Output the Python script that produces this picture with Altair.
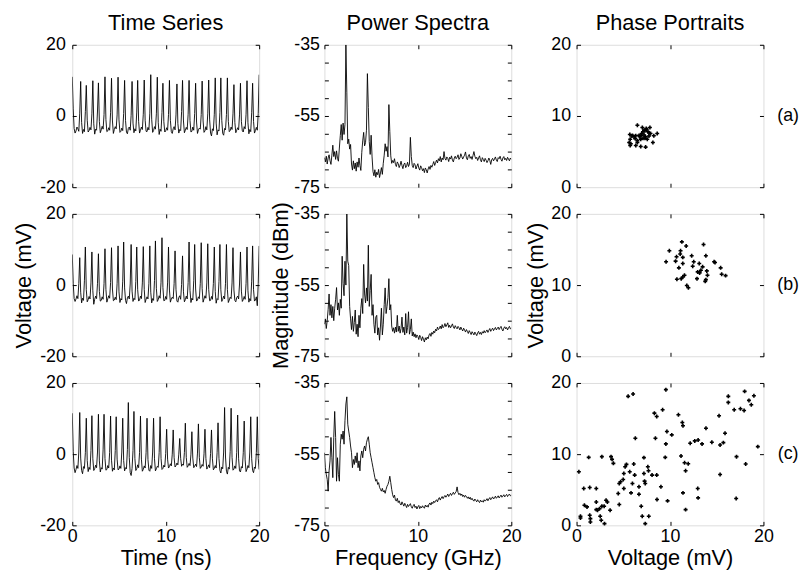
import altair as alt
import numpy as np
import pandas as pd

FONT = "Liberation Sans"
W, H = 189, 144

# ---------------- Time series (sampled every 0.1 ns), one cycle per line ----------------
TS_STEP = 0.1
ts_a_cycles = [
    [11.0, 2.0, -3.5, -4.8, -4.2, -3.1, -3.6, -4.3, 0.8],
    [9.7, -1.8, -4.9, -3.8, -4.4, 1.2],
    [8.6, -1.2, -4.5, -4.1, -3.2, -3.9, 0.6],
    [9.9, -2.2, -5.1, -3.7, -4.0, 1.4],
    [9.3, -1.6, -4.7, -3.9, -2.9, -3.7, 0.4],
    [11.0, -1.0, -4.4, -4.2, -3.3, -4.0, 0.9],
    [10.6, -1.4, -4.9, -3.8, -3.0, -3.6, 0.3],
    [10.9, -1.1, -4.6, -4.3, -3.4, -4.1, 0.7],
    [10.0, -1.3, -4.5, -5.0, -3.5, -3.1, -4.0, 0.2],
    [9.7, -2.0, -4.7, -3.6, -4.2, 1.1],
    [10.0, -1.5, -4.8, -4.0, -3.1, -3.8, 0.5],
    [10.1, -1.2, -4.3, -4.4, -3.2, -3.9, 0.8],
    [11.6, -0.9, -4.6, -4.1, -3.0, -3.7, 0.6],
    [10.9, -1.9, -5.2, -3.7, -4.3, 1.0],
    [9.2, -1.6, -4.5, -4.2, -3.3, -4.0, 0.4],
    [10.0, -1.2, -4.4, -4.9, -3.6, -3.0, -3.9, 0.3],
    [9.0, -2.1, -4.8, -3.8, -4.1, 1.2],
    [10.0, -1.4, -4.7, -4.0, -3.2, -3.8, 0.5],
    [10.0, -1.3, -4.5, -4.3, -3.1, -4.0, 0.7],
    [9.2, -1.7, -4.9, -3.9, -3.4, -3.7, 0.4],
    [9.8, -1.4, -4.6, -4.2, -3.0, -3.9, 0.6],
    [10.1, -1.1, -4.8, -5.6, -3.6, -4.1, 0.5],
    [10.7, -2.0, -5.3, -3.9, -4.2, 1.0],
    [10.7, -1.2, -4.9, -5.4, -3.5, -3.9, 0.4],
    [10.7, -1.5, -4.4, -4.1, -3.1, -3.8, 0.6],
    [8.8, -1.8, -4.7, -4.0, -3.3, -3.9, 0.3],
    [9.2, -1.6, -4.2, -4.5, -3.0, -3.6, 0.5],
    [9.9, -1.9, -5.0, -3.8, -4.4, 0.9],
    [9.2, -1.5, -4.8, -4.1, -3.2, -4.0, 0.7],
    [11.6],
]
ts_b_cycles = [
    [8.6, 0.5, -3.8, -4.6, -3.9, -3.0, -3.8, 0.4],
    [7.7, -2.0, -5.0, -3.7, -4.3, 1.2],
    [10.7, -1.3, -4.7, -4.1, -3.2, -3.9, 0.6],
    [9.3, -1.6, -5.4, -4.0, -3.1, -3.8, 0.5],
    [8.8, -1.8, -4.5, -4.3, -3.3, -4.0, 0.4],
    [10.2, -1.2, -4.8, -3.9, -3.0, -3.7, 0.7],
    [10.5, -1.1, -4.4, -4.2, -3.4, -4.1, 0.5],
    [11.0, -1.9, -4.9, -3.8, -4.2, 1.1],
    [12.1, -0.8, -4.3, -5.2, -3.6, -3.1, -3.9, 0.3],
    [11.4, -1.7, -4.6, -3.7, -4.1, 1.0],
    [10.7, -1.3, -4.5, -4.2, -3.1, -3.8, 0.6],
    [10.8, -1.2, -4.9, -4.0, -3.3, -3.9, 0.5],
    [11.0, -2.0, -5.0, -3.8, -4.3, 1.3],
    [12.4, -0.9, -4.6, -4.1, -3.0, -3.7, 0.8],
    [13.3, -0.7, -4.4, -4.3, -3.2, -4.0, 0.6],
    [10.7, -1.4, -4.8, -3.9, -3.4, -3.8, 0.4],
    [9.6, -1.2, -4.5, -4.8, -3.5, -3.0, -4.0, 0.2],
    [8.2, -1.9, -4.7, -4.1, -3.1, -3.9, 0.7],
    [12.1, -1.5, -4.9, -3.7, -4.2, 1.2],
    [11.4, -1.1, -4.5, -4.2, -3.3, -3.8, 0.5],
    [11.9, -1.0, -4.8, -3.9, -3.0, -3.7, 0.6],
    [11.6, -1.2, -4.4, -4.3, -3.2, -4.0, 0.4],
    [10.7, -1.8, -5.1, -3.8, -4.1, 1.0],
    [11.4, -1.3, -4.6, -4.0, -3.1, -3.9, 0.5],
    [11.4, -1.2, -4.9, -4.2, -3.4, -3.8, 0.6],
    [10.5, -1.4, -4.3, -4.7, -3.5, -3.1, -3.9, 0.3],
    [9.3, -1.7, -4.6, -4.1, -3.2, -4.0, 0.5],
    [10.7, -1.6, -4.8, -3.8, -4.4, 1.1],
    [11.0, -1.3, -4.5, -4.2, -3.3, -5.8, 0.4],
    [11.0],
]
ts_c_cycles = [
    [11.5, 0.8, -3.9, -5.2, -4.3, -3.2, -4.0, 0.6],
    [11.7, -1.1, -4.6, -5.5, -3.5, -4.0, 0.4],
    [10.1, -1.8, -4.9, -3.7, -4.3, 1.0],
    [10.8, -1.3, -4.6, -4.1, -3.1, -3.8, 0.6],
    [11.2, -1.9, -5.0, -3.8, -4.2, 1.2],
    [11.2, -1.2, -4.5, -4.3, -3.2, -3.9, 0.5],
    [10.7, -1.7, -4.8, -3.9, -4.4, 1.0],
    [10.5, -1.4, -4.4, -4.2, -3.3, -4.0, 0.6],
    [10.1, -1.8, -4.7, -3.8, -4.1, 1.3],
    [14.5, -1.0, -5.2, -6.0, -4.0, 1.0],
    [12.0, -1.2, -4.6, -4.1, -3.0, -3.8, 0.5],
    [10.7, -1.4, -4.8, -4.3, -3.3, -3.9, 0.4],
    [10.1, -1.5, -4.5, -4.8, -3.2, -4.0, 0.6],
    [10.1, -1.3, -4.7, -4.1, -3.4, -3.7, 0.5],
    [10.5, -1.2, -4.3, -4.0, -3.1, -3.6, 0.2],
    [7.0, -1.4, -3.9, -3.5, -2.7, -3.3, 0.0],
    [6.8, -1.0, -3.6, -3.2, -2.5, -3.0, 0.0],
    [4.4, -1.2, -3.4, -2.8, -3.1, 0.5],
    [8.7, -0.9, -3.7, -3.3, -2.6, -3.2, 0.0],
    [6.3, -1.1, -3.8, -3.4, -2.8, -3.5, 0.3],
    [8.5, -1.0, -4.0, -3.6, -2.9, -3.4, 0.1],
    [7.0, -1.2, -4.2, -3.7, -3.0, -3.8, 0.2],
    [6.8, -1.3, -4.4, -4.0, -3.2, -3.9, 0.4],
    [8.8, -1.2, -4.6, -5.3, -3.6, -4.1, 0.6],
    [13.1, -0.8, -4.8, -5.6, -3.7, -4.2, 0.8],
    [12.9, -0.9, -4.5, -4.2, -3.3, -4.0, 0.5],
    [11.0, -1.3, -4.7, -5.0, -3.5, -3.9, 0.4],
    [9.3, -1.6, -4.9, -4.2, -3.2, -3.8, 0.6],
    [10.5, -1.3, -4.6, -5.2, -3.6, -4.0, 0.5],
    [10.5, -1.2, -4.3],
]

# ---------------- Power spectra (sampled every 0.1 GHz) ----------------
PS_STEP = 0.1
ps_a = [
    -66.7, -67.9, -66.3, -68.5, -66.8, -65.9, -67.6, -68.6, -66.0, -63.2,
    -66.4, -65.0, -67.2, -64.8, -66.9, -67.7, -64.0, -60.5, -57.4, -61.8,
    -57.0, -60.2, -57.4, -35.0, -48.5, -62.8, -61.5, -64.3, -63.0, -68.5,
    -70.2, -67.6, -69.8, -68.2, -70.5, -67.9, -69.4, -66.8, -68.9, -70.3,
    -65.2, -62.0, -59.6, -63.4, -62.5, -59.0, -43.1, -52.6, -62.2, -65.8,
    -60.4, -66.5, -70.6, -71.8, -70.1, -72.2, -70.8, -71.5, -70.0, -72.3,
    -71.0, -69.5, -71.4, -68.3, -66.0, -62.8, -64.9, -63.6, -66.5, -51.8,
    -59.4, -66.2, -68.3, -67.5, -68.1, -67.0, -68.6, -69.2, -67.9, -68.4,
    -69.5, -68.8, -67.7, -68.9, -69.8, -68.6, -68.2, -69.5, -69.0, -68.0,
    -69.2, -68.5, -61.0, -66.4, -68.9, -69.5, -68.3, -68.7, -69.9, -69.1,
    -68.4, -69.6, -70.2, -69.0, -69.5, -70.4, -69.8, -70.9, -69.6, -70.1,
    -71.0, -69.9, -69.2, -70.0, -68.9, -69.4, -68.6, -67.8, -68.9, -68.1,
    -67.4, -68.2, -67.0, -67.6, -66.4, -67.9, -66.8, -67.3, -65.0, -66.9,
    -67.4, -66.5, -66.9, -67.8, -66.6, -67.1, -66.2, -67.4, -67.9, -66.8,
    -66.3, -67.0, -66.6, -65.9, -67.2, -66.8, -65.6, -66.4, -67.1, -66.5,
    -66.0, -65.1, -66.8, -67.3, -66.2, -65.8, -66.9, -66.4, -67.2, -66.1,
    -65.0, -66.3, -67.0, -66.6, -67.5, -66.8, -66.2, -67.3, -67.9, -66.7,
    -67.2, -67.8, -66.9, -67.4, -68.1, -67.6, -66.8, -67.5, -68.6, -67.3,
    -66.9, -67.6, -67.1, -66.5, -67.4, -67.8, -66.7, -67.0, -66.3, -67.2,
    -67.7, -66.8, -66.4, -67.3, -66.9, -67.5, -66.6, -67.1, -67.6, -66.8,
    -67.2,
]
ps_b = [
    -66.0, -64.5, -67.2, -65.0, -61.8, -57.5, -63.5, -60.5, -64.2, -61.0,
    -65.0, -61.5, -59.0, -55.7, -62.0, -60.0, -63.5, -59.0, -61.5, -46.9,
    -54.5, -58.0, -48.3, -55.0, -35.0, -48.3, -49.5, -61.0, -64.5, -67.5,
    -63.8, -68.0, -65.5, -62.0, -68.8, -66.0, -69.5, -63.5, -67.0, -61.5,
    -58.8, -63.0, -49.2, -57.5, -60.0, -55.8, -59.5, -43.8, -61.0, -56.5,
    -52.0, -63.5, -60.5, -66.0, -68.5, -64.0, -63.5, -69.0, -67.0, -70.5,
    -66.5, -61.5, -69.0, -66.0, -60.5, -55.8, -63.0, -61.0, -58.5, -53.2,
    -62.0, -60.5, -66.5, -68.0, -67.0, -68.5, -66.8, -68.2, -63.5, -68.0,
    -66.5, -68.5, -67.2, -64.0, -68.3, -66.8, -69.0, -63.0, -68.5, -66.9,
    -62.5, -68.8, -67.5, -64.5, -69.3, -68.2, -69.5, -68.7, -69.8, -69.0,
    -69.4, -70.3, -69.1, -69.7, -70.6, -69.5, -70.2, -71.0, -69.8, -70.4,
    -69.6, -70.1, -69.0, -68.6, -69.4, -68.3, -68.8, -67.9, -68.4, -67.4,
    -67.9, -66.8, -67.5, -67.2, -66.5, -67.3, -66.1, -67.0, -66.6, -65.8,
    -66.7, -66.2, -65.6, -66.9, -66.3, -67.0, -66.5, -65.9, -66.8, -67.2,
    -66.4, -66.9, -67.3, -66.6, -67.0, -67.6, -66.8, -67.4, -67.9, -67.1,
    -67.6, -68.2, -67.5, -68.0, -68.6, -67.8, -68.3, -68.9, -68.1, -68.5,
    -69.0, -68.2, -68.7, -69.2, -68.4, -68.0, -68.8, -68.3, -68.9, -68.1,
    -68.5, -67.8, -68.4, -68.0, -67.6, -68.3, -67.7, -67.2, -68.0, -67.5,
    -67.1, -67.8, -67.3, -66.9, -67.6, -67.2, -66.8, -67.5, -67.0, -66.6,
    -67.4, -67.9, -67.1, -66.7, -67.3, -66.9, -67.6, -67.0, -66.6, -67.3,
    -67.1,
]
ps_c = [
    -54.6, -58.8, -60.7, -62.1, -65.4, -59.7, -56.9, -50.3, -56.0, -61.6,
    -50.3, -43.0, -50.3, -62.6, -56.0, -60.7, -62.6, -52.2, -49.4, -50.8,
    -48.5, -52.2, -45.6, -40.9, -38.9, -46.6, -48.5, -50.3, -52.7, -54.6,
    -58.8, -56.5, -57.9, -55.5, -57.4, -54.6, -58.8, -56.9, -59.7, -55.5,
    -54.1, -56.0, -53.6, -52.7, -54.1, -51.8, -50.8, -50.1, -52.2, -54.6,
    -56.0, -57.4, -58.8, -60.2, -61.6, -62.6, -62.1, -63.5, -63.0, -64.3,
    -64.9, -65.4, -64.6, -65.6, -65.2, -66.0, -64.9, -64.0, -63.5, -62.6,
    -61.2, -63.0, -64.9, -66.4, -67.2, -66.5, -67.9, -68.2, -67.4, -68.6,
    -68.1, -68.9, -69.3, -68.4, -69.0, -69.6, -68.8, -69.4, -70.0, -69.1,
    -69.7, -69.3, -68.9, -69.8, -70.2, -69.5, -69.1, -70.0, -69.6, -70.4,
    -69.8, -69.4, -70.3, -69.7, -70.1, -69.5, -69.9, -70.2, -69.3, -69.8,
    -69.4, -69.9, -69.0, -68.7, -69.3, -68.5, -68.9, -68.2, -68.6, -68.1,
    -67.8, -68.4, -67.6, -67.2, -67.9, -67.3, -66.9, -67.5, -67.0, -66.6,
    -67.1, -66.7, -66.2, -66.9, -66.4, -66.0, -66.6, -66.1, -65.7, -66.3,
    -65.9, -65.5, -64.2, -65.8, -66.4, -66.0, -66.6, -66.2, -66.9, -66.5,
    -67.1, -66.6, -66.9, -67.4, -67.0, -67.6, -67.1, -67.8, -67.4, -67.9,
    -68.2, -67.6, -68.0, -68.4, -67.8, -68.3, -68.6, -67.9, -68.4, -68.1,
    -68.5, -67.8, -68.2, -67.9, -67.5, -68.1, -67.6, -67.2, -67.8, -67.4,
    -67.0, -67.6, -67.3, -66.8, -67.4, -67.1, -66.7, -67.3, -66.9, -66.5,
    -67.1, -66.8, -66.4, -67.0, -66.6, -66.3, -66.9, -66.5, -66.2, -66.7,
    -66.6,
]

# ---------------- Phase portraits ----------------
pa_x = [6.51, 5.70, 5.92, 6.16, 6.34, 6.69, 6.97, 7.11, 7.32, 7.50, 7.85, 7.46, 7.22, 7.39,
        7.75, 8.27, 8.63, 8.17, 5.74, 5.63, 5.74, 6.34, 6.87, 7.39, 6.51, 6.87, 7.11, 7.57,
        6.76, 6.27, 5.99, 7.04, 7.22, 7.64, 7.92, 6.51, 5.81, 7.75, 7.32, 6.90]
pa_y = [8.70, 7.41, 7.19, 7.09, 7.23, 7.28, 7.55, 7.78, 7.92, 8.10, 8.38, 8.24, 7.32, 7.09,
        7.19, 7.23, 7.55, 6.27, 6.73, 6.27, 5.86, 5.86, 5.72, 5.63, 6.54, 6.73, 6.86, 6.73,
        7.09, 6.82, 7.28, 8.38, 8.01, 7.78, 7.55, 6.27, 6.09, 7.64, 6.86, 7.28]
pb_x = [11.27, 11.73, 9.93, 13.59, 11.13, 12.32, 13.84, 10.70, 11.37, 9.58, 10.60, 12.54,
        13.13, 14.72, 14.82, 12.43, 10.95, 15.42, 13.31, 13.17, 13.94, 14.01, 11.55, 11.37,
        11.20, 10.74, 12.89, 13.84, 13.77, 15.53, 15.95, 11.80, 11.97, 11.37, 13.49, 12.96,
        11.09]
pb_y = [16.07, 15.50, 14.83, 15.69, 14.83, 14.12, 14.12, 13.98, 13.89, 13.27, 13.36, 13.27,
        13.03, 13.27, 13.18, 12.65, 12.42, 12.42, 12.09, 11.71, 11.99, 11.37, 11.37, 11.14,
        10.90, 10.81, 10.90, 10.76, 10.52, 11.52, 11.33, 9.95, 9.62, 13.03, 12.56, 11.85,
        14.36]
pc_x = [0.25, 0.42, 0.42, 0.77, 0.84, 1.12, 1.30, 1.41, 1.41, 1.48, 1.48, 2.11, 2.11, 2.11,
        2.25, 2.46, 2.53, 2.64, 2.71, 2.71, 2.95, 2.99, 3.16, 3.30, 3.59, 3.69, 3.80, 3.94,
        4.46, 4.57, 4.57, 4.71, 4.99, 5.06, 5.06, 5.20, 5.34, 5.52, 5.69, 5.83, 6.05, 5.98,
        6.12, 6.22, 6.29, 6.68, 6.68, 6.92, 7.03, 7.21, 7.21, 7.28, 7.35, 7.35, 7.63, 7.70,
        7.73, 8.08, 8.33, 8.44, 8.58, 8.58, 8.61, 9.03, 9.21, 9.49, 9.56, 9.56, 9.67, 9.74,
        10.19, 11.18, 10.90, 11.32, 11.39, 11.39, 11.56, 11.67, 11.67, 11.95, 12.16, 12.65,
        12.97, 13.01, 13.01, 13.43, 13.85, 14.48, 15.25, 15.36, 15.36, 15.71, 15.89, 16.24,
        16.24, 16.87, 17.12, 17.08, 17.54, 17.93, 17.99, 18.10, 18.45, 18.70, 18.98, 19.40]
pc_y = [7.53, 1.27, 1.04, 5.18, 2.82, 2.59, 9.55, 5.32, 1.41, 0.94, 0.47, 5.18, 3.29, 2.21,
        2.12, 2.35, 1.27, 0.71, 9.65, 2.68, 2.68, 0.24, 3.53, 3.29, 2.12, 9.65, 9.27, 8.71,
        4.47, 2.92, 5.88, 6.12, 6.45, 7.29, 5.18, 8.24, 8.56, 18.12, 7.53, 4.56, 18.45, 5.88,
        8.61, 7.06, 12.24, 5.41, 4.38, 2.68, 1.27, 9.51, 7.29, 6.21, 5.88, 0.24, 8.24, 7.67,
        1.27, 7.06, 15.76, 12.24, 15.29, 7.06, 3.62, 5.41, 16.24, 9.55, 11.44, 19.06, 13.18,
        3.44, 12.71, 9.74, 15.53, 14.45, 13.98, 4.56, 8.80, 7.67, 2.21, 8.66, 11.53, 11.86,
        5.18, 3.86, 12.00, 11.44, 13.65, 11.67, 15.39, 11.29, 7.15, 11.62, 12.94, 17.27,
        18.12, 16.24, 9.65, 3.76, 16.38, 16.14, 18.82, 8.61, 17.55, 16.94, 18.21, 11.06]

row_labels = ["(a)", "(b)", "(c)"]
col_titles = ["Time Series", "Power Spectra", "Phase Portraits"]


def flat(cycles):
    return [v for c in cycles for v in c]


def sampled(vals, step):
    return pd.DataFrame({"x": np.arange(len(vals)) * step, "y": vals})


def ax(orient, values, labels=True, title=None, label_expr="'' + datum.value",
       label_pad=7, title_pad=4):
    return alt.Axis(
        orient=orient, values=values, labels=labels, domain=False, ticks=True,
        tickSize=4, tickColor="black", tickWidth=1, offset=-4, grid=False,
        labelFont=FONT, labelFontSize=18, labelColor="black", labelPadding=label_pad,
        labelFlush=False, labelOverlap=False, labelExpr=label_expr,
        titleFont=FONT, titleFontSize=22, titleFontWeight="normal", titleColor="black",
        titlePadding=title_pad, title=title)


def panel(df, kind, xdom, ydom, xvals, yvals, row, col, ylab_expr="'' + datum.value",
          xtitle=None, ytitle=None, ylab_pad=7, ytitle_pad=4):
    xs = alt.Scale(domain=xdom, nice=False, zero=False)
    ys = alt.Scale(domain=ydom, nice=False, zero=False)
    base = alt.Chart(df)
    if kind == "line":
        mk = base.mark_line(color="black", strokeWidth=0.9, clip=True)
    else:
        mk = base.mark_point(shape="cross", filled=True, size=16, color="black", opacity=1)
    main = mk.encode(
        x=alt.X("x:Q", scale=xs,
                axis=ax("bottom", xvals, labels=(row == 2), title=xtitle,
                        label_pad=2, title_pad=3)),
        y=alt.Y("y:Q", scale=ys,
                axis=ax("left", yvals, title=ytitle, label_expr=ylab_expr,
                        label_pad=ylab_pad, title_pad=ytitle_pad)),
    )
    mirror = base.mark_point(opacity=0).encode(
        x=alt.X("x:Q", scale=xs, axis=ax("top", xvals, labels=False)),
        y=alt.Y("y:Q", scale=ys, axis=ax("right", yvals, labels=False)),
    )
    layers = [main, mirror]
    if col == 2:
        lab = alt.Chart(pd.DataFrame({"lab": [row_labels[row]]})).mark_text(
            font=FONT, fontSize=18, color="black", align="center", baseline="middle"
        ).encode(x=alt.value(W + 25), y=alt.value(H / 2), text="lab:N")
        layers.append(lab)
    ch = alt.layer(*layers).resolve_axis(x="independent", y="independent")
    props = dict(width=W, height=H)
    if row == 0:
        props["title"] = alt.TitleParams(col_titles[col], font=FONT, fontSize=22,
                                         fontWeight="normal", color="black", offset=1)
    return ch.properties(**props)


ts_frames = [sampled(flat(c), TS_STEP) for c in (ts_a_cycles, ts_b_cycles, ts_c_cycles)]
ps_frames = [sampled(v, PS_STEP) for v in (ps_a, ps_b, ps_c)]
ph_frames = [pd.DataFrame({"x": px, "y": py})
             for px, py in ((pa_x, pa_y), (pb_x, pb_y), (pc_x, pc_y))]

panels = []
for r in range(3):
    panels.append(panel(ts_frames[r], "line", [0, 20], [-20, 20], [0, 10, 20], [-20, 0, 20],
                        r, 0, xtitle=("Time (ns)" if r == 2 else None),
                        ytitle=("Voltage (mV)" if r == 1 else None)))
    panels.append(panel(ps_frames[r], "line", [0, 20], [-75, -35], [0, 10, 20],
                        [-75, -70, -65, -60, -55, -50, -45, -40, -35], r, 1,
                        ylab_expr="datum.value % 20 == -15 ? '' + datum.value : ''",
                        xtitle=("Frequency (GHz)" if r == 2 else None),
                        ytitle=("Magnitude (dBm)" if r == 1 else None),
                        ylab_pad=5, ytitle_pad=1))
    panels.append(panel(ph_frames[r], "point", [0, 20], [0, 20], [0, 10, 20], [0, 10, 20],
                        r, 2, xtitle=("Voltage (mV)" if r == 2 else None),
                        ytitle=("Voltage (mV)" if r == 1 else None), ylab_pad=6, ytitle_pad=3))

chart = alt.concat(*panels, columns=3, spacing={"row": 27, "column": 66}, bounds="flush").properties(
    padding={"left": 4, "top": 0, "right": 2, "bottom": 2}
).configure_view(stroke="black", strokeWidth=1).configure(background="white")

chart.save("out.html", embed_options={"renderer": "svg", "actions": False})
